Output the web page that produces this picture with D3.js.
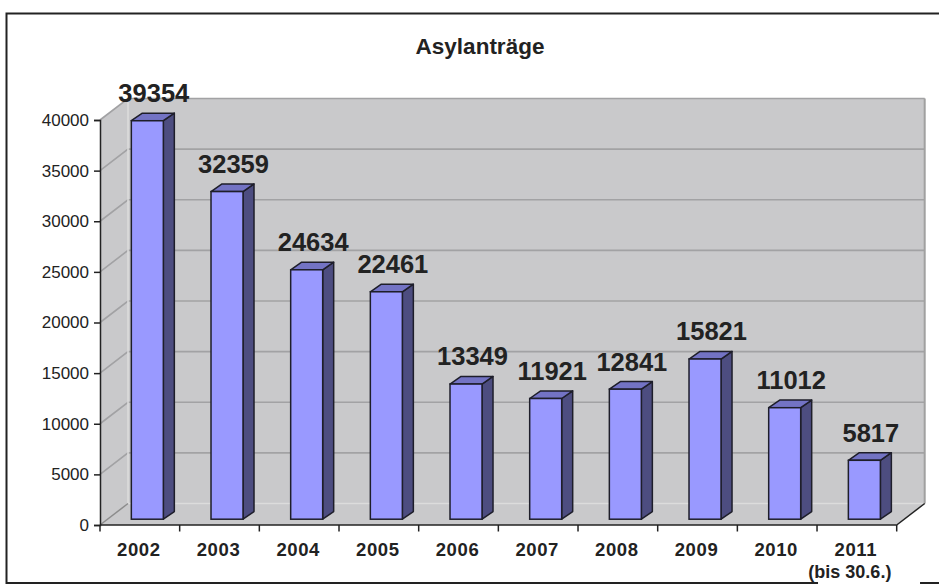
<!DOCTYPE html>
<html>
<head>
<meta charset="utf-8">
<script src="https://cdn.jsdelivr.net/npm/d3@7"></script>
<style>
  body { margin: 0; background: #fff; }
  text { font-family: "Liberation Sans", Arial, sans-serif; fill: #222; }
</style>
</head>
<body>
<div class="canva"></div>
<script>
// data
const years = ["2002", "2003", "2004", "2005", "2006", "2007", "2008", "2009", "2010", "2011"];
const antraege = [39354, 32359, 24634, 22461, 13349, 11921, 12841, 15821, 11012, 5817];
const yTicks = [0, 5000, 10000, 15000, 20000, 25000, 30000, 35000, 40000];

const width = 939, height = 584;
const svg = d3.select(".canva").append("svg")
    .attr("width", width)
    .attr("height", height);

// frame
svg.append("rect")
    .attr("x", 6.5).attr("y", 13.5)
    .attr("width", 940).attr("height", 569.5)
    .attr("fill", "#fff")
    .attr("stroke", "#222")
    .attr("stroke-width", 2);

svg.append("text")
    .attr("x", 480).attr("y", 54)
    .attr("text-anchor", "middle")
    .style("font-size", "22.5px")
    .style("font-weight", "bold")
    .text("Asylanträge");

// scales (front plane)
const x = d3.scaleBand().domain(years).range([100, 896.7]).paddingInner(0).paddingOuter(0);
const y = d3.scaleLinear().domain([0, 40000]).range([525, 120]);

// depth of the 3d box
const dX = 28, dY = -21.5;
// bar position inside the depth
const bFront = { x: 7.5, y: -5.8 }, bDepth = { x: 11, y: -7.6 };
const barW = 32;

const x0 = x.range()[0], x1 = x.range()[1];
const yTop = y(40000), yBot = y(0);

const wall = svg.append("g");
const poly = pts => pts.map(p => p.join(",")).join(" ");

// back wall, side wall, floor
wall.append("polygon")
    .attr("points", poly([[x0 + dX, yTop + dY], [x1 + dX, yTop + dY], [x1 + dX, yBot + dY], [x0 + dX, yBot + dY]]))
    .attr("fill", "#c9c9cb");
wall.append("polygon")
    .attr("points", poly([[x0, yTop], [x0 + dX, yTop + dY], [x0 + dX, yBot + dY], [x0, yBot]]))
    .attr("fill", "#c9c9cb");
wall.append("polygon")
    .attr("points", poly([[x0, yBot], [x1, yBot], [x1 + dX, yBot + dY], [x0 + dX, yBot + dY]]))
    .attr("fill", "#c9c9cb");

// gridlines
wall.selectAll(".grid")
    .data(yTicks.filter(d => d > 0))
    .enter()
    .append("polyline")
    .attr("points", d => poly([[x0, y(d)], [x0 + dX, y(d) + dY], [x1 + dX, y(d) + dY]]))
    .attr("fill", "none")
    .attr("stroke", "#a2a2a4")
    .attr("stroke-width", 1.6);

// wall edges
wall.append("line")
    .attr("x1", x0 + dX).attr("y1", yTop + dY)
    .attr("x2", x0 + dX).attr("y2", yBot + dY)
    .attr("stroke", "#dcdcdc").attr("stroke-width", 1.5);
wall.append("line")
    .attr("x1", x0 + dX).attr("y1", yBot + dY)
    .attr("x2", x1 + dX).attr("y2", yBot + dY)
    .attr("stroke", "#dcdcdc").attr("stroke-width", 1.5);
wall.append("line")
    .attr("x1", x0).attr("y1", yBot)
    .attr("x2", x0 + dX).attr("y2", yBot + dY)
    .attr("stroke", "#8c8c8c").attr("stroke-width", 1.5);
wall.append("line")
    .attr("x1", x1 + dX).attr("y1", yTop + dY)
    .attr("x2", x1 + dX).attr("y2", yBot + dY)
    .attr("stroke", "#a0a0a0").attr("stroke-width", 2);
wall.append("line")
    .attr("x1", x1).attr("y1", yBot)
    .attr("x2", x1 + dX).attr("y2", yBot + dY)
    .attr("stroke", "#222").attr("stroke-width", 1.5);

// axes
const yAxis = svg.append("g")
    .attr("transform", `translate(${x0},0)`)
    .call(d3.axisLeft(y).tickValues(yTicks).tickSize(6).tickPadding(5).tickFormat(d3.format("d")));
yAxis.select(".domain").attr("stroke", "#222").attr("stroke-width", 1.5);
yAxis.selectAll(".tick line").attr("stroke", "#222").attr("stroke-width", 1.5);
yAxis.selectAll("text")
    .attr("fill", "#222")
    .style("font-family", "'Liberation Sans', Arial, sans-serif")
    .style("font-size", "17px");

const xAxis = svg.append("g")
    .attr("transform", `translate(0,${yBot})`);
xAxis.append("line")
    .attr("x1", x0).attr("x2", x1)
    .attr("stroke", "#222").attr("stroke-width", 1.5);
xAxis.selectAll(".xt")
    .data(years.concat(["end"]))
    .enter()
    .append("line")
    .attr("x1", (d, i) => i < years.length ? x(d) : x1)
    .attr("x2", (d, i) => i < years.length ? x(d) : x1)
    .attr("y1", 0).attr("y2", 6.5)
    .attr("stroke", "#222").attr("stroke-width", 1.5);
xAxis.selectAll(".xl")
    .data(years)
    .enter()
    .append("text")
    .attr("x", d => x(d) + x.bandwidth() / 2 - 1)
    .attr("y", 31)
    .attr("text-anchor", "middle")
    .style("font-size", "18.5px")
    .style("font-weight", "bold")
    .style("letter-spacing", "0.6px")
    .text(d => d);

// note under 2011, covers the frame line
const note = svg.append("g");
note.append("rect")
    .attr("x", x("2011") + 1).attr("y", 564)
    .attr("width", 102).attr("height", 20)
    .attr("fill", "#fff");
note.append("text")
    .attr("x", x("2011") + x.bandwidth() / 2 - 7)
    .attr("y", 578)
    .attr("text-anchor", "middle")
    .style("font-size", "18px")
    .style("font-weight", "bold")
    .text("(bis 30.6.)");

// bars
const bars = svg.selectAll(".bar")
    .data(years.map((d, i) => ({ year: d, v: antraege[i] })))
    .enter()
    .append("g");

const bx = d => x(d.year) + (x.bandwidth() - barW) / 2 + bFront.x;
const by0 = y(0) + bFront.y;
const byT = d => y(d.v) + bFront.y;

bars.append("polygon") // side
    .attr("points", d => poly([[bx(d) + barW, byT(d)], [bx(d) + barW + bDepth.x, byT(d) + bDepth.y],
        [bx(d) + barW + bDepth.x, by0 + bDepth.y], [bx(d) + barW, by0]]))
    .attr("fill", "#4d4d80")
    .attr("stroke", "#1e1e2a").attr("stroke-width", 1.5).attr("stroke-linejoin", "round");
bars.append("polygon") // top
    .attr("points", d => poly([[bx(d), byT(d)], [bx(d) + bDepth.x, byT(d) + bDepth.y],
        [bx(d) + barW + bDepth.x, byT(d) + bDepth.y], [bx(d) + barW, byT(d)]]))
    .attr("fill", "#7373c4")
    .attr("stroke", "#1e1e2a").attr("stroke-width", 1.5).attr("stroke-linejoin", "round");
bars.append("rect") // front
    .attr("x", bx)
    .attr("y", byT)
    .attr("width", barW)
    .attr("height", d => by0 - byT(d))
    .attr("fill", "#9999ff")
    .attr("stroke", "#1e1e2a").attr("stroke-width", 1.5);

bars.append("text")
    .attr("x", d => bx(d) + (barW + bDepth.x) / 2 + 1)
    .attr("y", d => byT(d) + bDepth.y - 11)
    .attr("text-anchor", "middle")
    .style("font-size", "25.5px")
    .style("font-weight", "bold")
    .text(d => d.v);
</script>
</body>
</html>
